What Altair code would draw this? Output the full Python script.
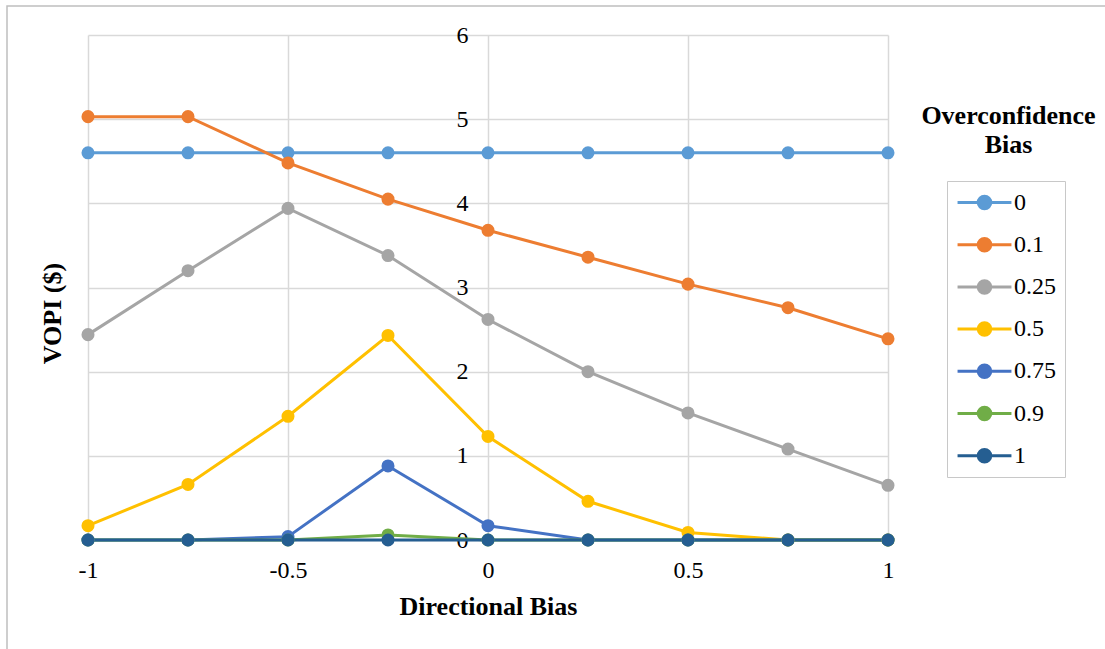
import altair as alt
import pandas as pd

# ---- data ----
directional_bias = [-1, -0.75, -0.5, -0.25, 0, 0.25, 0.5, 0.75, 1]
series_names = ["0", "0.1", "0.25", "0.5", "0.75", "0.9", "1"]
vopi_0 = [4.6, 4.6, 4.6, 4.6, 4.6, 4.6, 4.6, 4.6, 4.6]
vopi_01 = [5.03, 5.03, 4.48, 4.05, 3.68, 3.36, 3.04, 2.76, 2.39]
vopi_025 = [2.44, 3.20, 3.94, 3.38, 2.62, 2.00, 1.51, 1.08, 0.65]
vopi_05 = [0.17, 0.66, 1.47, 2.43, 1.23, 0.46, 0.09, 0.0, 0.0]
vopi_075 = [0.0, 0.0, 0.04, 0.88, 0.17, 0.0, 0.0, 0.0, 0.0]
vopi_09 = [0.0, 0.0, 0.0, 0.06, 0.0, 0.0, 0.0, 0.0, 0.0]
vopi_1 = [0.0, 0.0, 0.0, 0.0, 0.0, 0.0, 0.0, 0.0, 0.0]
series_colors = ["#5B9BD5", "#ED7D31", "#A5A5A5", "#FFC000", "#4472C4", "#70AD47", "#255E91"]
x_ticks = [-1, -0.5, 0, 0.5, 1]
y_ticks = [0, 1, 2, 3, 4, 5, 6]

all_series = [vopi_0, vopi_01, vopi_025, vopi_05, vopi_075, vopi_09, vopi_1]
rows = []
for name, vals in zip(series_names, all_series):
    for xv, yv in zip(directional_bias, vals):
        rows.append({"bias": xv, "vopi": yv, "series": name})
df = pd.DataFrame(rows)

FONT = "Liberation Serif"
W, H = 800, 505

# legend symbol: line with a filled dot (drawn as concentric stroked rings)
def ring(r):
    return f"M{r},0A{r},{r},0,1,1,{-r},0A{r},{r},0,1,1,{r},0"

symbol_path = "M-2.45,0L2.45,0" + ring(0.57) + ring(0.39) + ring(0.21) + ring(0.05)

color = alt.Color(
    "series:N",
    scale=alt.Scale(domain=series_names, range=series_colors),
    legend=alt.Legend(
        title=None,
        orient="none",
        legendX=859,
        legendY=146,
        symbolType=symbol_path,
        symbolSize=484,
        symbolStrokeWidth=3,
        symbolFillColor="transparent",
        symbolOffset=16,
        labelOffset=17,
        labelFont=FONT,
        labelFontSize=24,
        labelColor="#000000",
        rowPadding=17.2,
        padding=9,
        strokeColor="#c8c8c8",
        fillColor="white",
    ),
)

x_enc = alt.X(
    "bias:Q",
    scale=alt.Scale(domain=[-1, 1], nice=False, zero=False),
    axis=alt.Axis(
        values=x_ticks,
        title="Directional Bias",
        titleFont=FONT,
        titleFontSize=26,
        titleFontWeight="bold",
        titleColor="#000000",
        titleBaseline="alphabetic",
        titleY=74,
        titleX=400,
        titleAlign="center",
        labelFont=FONT,
        labelFontSize=24,
        labelColor="#000000",
        labelPadding=18,
        labelFlush=False,
        labelExpr="datum.value + ''",
        ticks=False,
        domain=False,
        grid=True,
        gridColor="#d9d9d9",
        gridWidth=1.5,
    ),
)

y_enc = alt.Y(
    "vopi:Q",
    scale=alt.Scale(domain=[0, 6], nice=False),
    axis=alt.Axis(
        values=y_ticks,
        offset=-400,
        title="VOPI ($)",
        titleFont=FONT,
        titleFontSize=26,
        titleFontWeight="bold",
        titleColor="#000000",
        titleAngle=270,
        titleBaseline="alphabetic",
        titleAlign="center",
        titleX=-428,
        titleY=278,
        labelFont=FONT,
        labelFontSize=24,
        labelColor="#000000",
        labelPadding=20,
        labelExpr="datum.value + ''",
        ticks=False,
        domain=False,
        grid=True,
        gridColor="#d9d9d9",
        gridWidth=1.5,
    ),
)

lines = alt.Chart(df).mark_line(strokeWidth=3).encode(
    x=x_enc, y=y_enc, color=color, detail="series:N"
)
points = alt.Chart(df).mark_circle(size=170, opacity=1).encode(
    x="bias:Q", y="vopi:Q",
    color=alt.Color("series:N", scale=alt.Scale(domain=series_names, range=series_colors), legend=None),
    order=alt.Order("series:N"),
)

one = pd.DataFrame({"k": [0]})
border = alt.Chart(one).mark_rect(fill="transparent", stroke="#bfbfbf", strokeWidth=1.5, clip=False).encode(
    x=alt.value(-81), x2=alt.value(1110), y=alt.value(-29), y2=alt.value(700)
)
legend_title = alt.Chart(one).mark_text(
    font=FONT, fontSize=26, fontWeight="bold", color="#000000",
    align="center", baseline="alphabetic", lineHeight=29,
).encode(
    x=alt.value(920.5), y=alt.value(89), text=alt.value(["Overconfidence", "Bias"])
)

chart = alt.layer(border, lines, points, legend_title).properties(
    width=W, height=H,
    autosize=alt.AutoSizeParams(type="none"),
    padding={"left": 88, "top": 35, "right": 217, "bottom": 109},
    background="white",
).configure_view(strokeWidth=0)

chart.save("out.html", embed_options={"renderer": "svg", "actions": False})
